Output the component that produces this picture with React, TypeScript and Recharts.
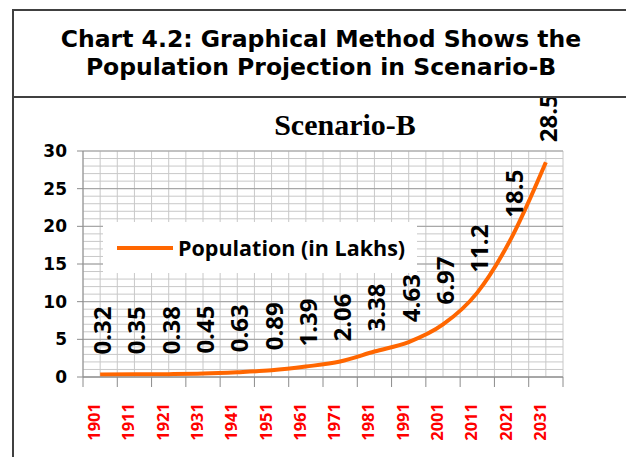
import {
  CartesianGrid,
  ComposedChart,
  LabelList,
  Legend,
  Line,
  XAxis,
  YAxis,
} from "recharts";

const years = [
  "1901", "1911", "1921", "1931", "1941", "1951", "1961",
  "1971", "1981", "1991", "2001", "2011", "2021", "2031",
];
const population = [
  0.32, 0.35, 0.38, 0.45, 0.63, 0.89, 1.39,
  2.06, 3.38, 4.63, 6.97, 11.2, 18.5, 28.5,
];
const yTicks = [0, 5, 10, 15, 20, 25, 30];
const yMinorTicks = Array.from({ length: 31 }, (_, i) => i);
// category boundaries (integers) and centres (halves)
const xTicks = Array.from({ length: years.length * 2 + 1 }, (_, i) => i / 2);

const data = population.map((value, i) => ({ pos: i + 0.5, year: years[i], value }));

const LABEL_FONT = "'Open Sans', sans-serif";
const AXIS_FONT = "'DejaVu Sans', Verdana, sans-serif";

function YearTick(props: any) {
  const { x, y, payload } = props;
  const v = payload.value as number;
  if (Number.isInteger(v)) {
    return <line x1={x} y1={y} x2={x} y2={y + 10} stroke="#8c8c8c" strokeWidth={1} />;
  }
  const year = years[Math.floor(v)];
  const ty = y + 26;
  return (
    <text
      x={x}
      y={ty}
      transform={`rotate(-90, ${x}, ${ty})`}
      textAnchor="end"
      fill="#ff0000"
      fontFamily={LABEL_FONT}
      fontWeight={700}
      fontSize={16.5}
    >
      {year}
    </text>
  );
}

function ValueLabel(props: any) {
  const { x, y, value } = props;
  const bx = x + 11;
  const by = y - 20;
  return (
    <text
      x={bx}
      y={by}
      transform={`rotate(-90, ${bx}, ${by})`}
      textAnchor="start"
      fill="#000"
      fontFamily={LABEL_FONT}
      fontWeight={700}
      fontSize={24}
    >
      {value}
    </text>
  );
}

function LegendBox() {
  return (
    <div style={{ display: "flex", alignItems: "center", height: "100%", paddingLeft: 14 }}>
      <div style={{ width: 56, height: 4, background: "#ff6600", marginRight: 5 }} />
      <span style={{ fontFamily: LABEL_FONT, fontWeight: 700, fontSize: 21.5, color: "#000" }}>
        Population (in Lakhs)
      </span>
    </div>
  );
}

export default function App() {
  return (
    <div style={{ position: "absolute", left: 0, top: 0, width: 626, height: 457, background: "#fff" }}>
      <ComposedChart
        width={626}
        height={457}
        data={data}
        margin={{ top: 151, right: 63, bottom: 0, left: 23 }}
      >
        <CartesianGrid
          horizontalValues={yMinorTicks}
          vertical={true}
          stroke="#c8c8c8"
          strokeWidth={1}
        />
        <CartesianGrid vertical={false} stroke="#a0a0a0" strokeWidth={1} />
        <XAxis
          type="number"
          dataKey="pos"
          domain={[0, years.length]}
          ticks={xTicks}
          interval={0}
          tickLine={false}
          tickSize={0}
          tickMargin={0}
          tick={<YearTick />}
          axisLine={{ stroke: "#8c8c8c" }}
          height={80}
        />
        <YAxis
          type="number"
          domain={[0, 30]}
          ticks={yTicks}
          interval={0}
          width={60}
          tickSize={6}
          tickMargin={10}
          tickLine={{ stroke: "#8c8c8c" }}
          axisLine={{ stroke: "#8c8c8c" }}
          tick={{ fill: "#000", fontFamily: AXIS_FONT, fontWeight: 700, fontSize: 17 }}
        />
        <Legend
          verticalAlign="middle"
          align="center"
          layout="horizontal"
          wrapperStyle={{ left: 103, top: 222, width: 314, height: 51, background: "#fff" }}
          content={<LegendBox />}
        />
        <Line
          type="monotone"
          dataKey="value"
          stroke="#ff6600"
          strokeWidth={4}
          dot={false}
          activeDot={false}
          isAnimationActive={false}
        >
          <LabelList dataKey="value" content={<ValueLabel />} />
        </Line>
      </ComposedChart>
      <svg
        width={626}
        height={457}
        style={{ position: "absolute", left: 0, top: 0, pointerEvents: "none" }}
      >
        <rect x={13} y={10} width={613} height={87} fill="#fff" />
        <line x1={13} y1={10} x2={626} y2={10} stroke="#404040" strokeWidth={2} />
        <line x1={13} y1={97} x2={626} y2={97} stroke="#404040" strokeWidth={2} />
        <line x1={13} y1={9} x2={13} y2={457} stroke="#404040" strokeWidth={2} />
        <text
          x={321}
          y={47}
          textAnchor="middle"
          fontFamily={AXIS_FONT}
          fontWeight={700}
          fontSize={23.5}
          fill="#000"
        >
          Chart 4.2: Graphical Method Shows the
        </text>
        <text
          x={321}
          y={75}
          textAnchor="middle"
          fontFamily={AXIS_FONT}
          fontWeight={700}
          fontSize={23.5}
          fill="#000"
        >
          Population Projection in Scenario-B
        </text>
        <text
          x={345}
          y={135}
          textAnchor="middle"
          fontFamily="'Liberation Serif', 'Times New Roman', serif"
          fontWeight={700}
          fontSize={30}
          fill="#000"
        >
          Scenario-B
        </text>
      </svg>
    </div>
  );
}
